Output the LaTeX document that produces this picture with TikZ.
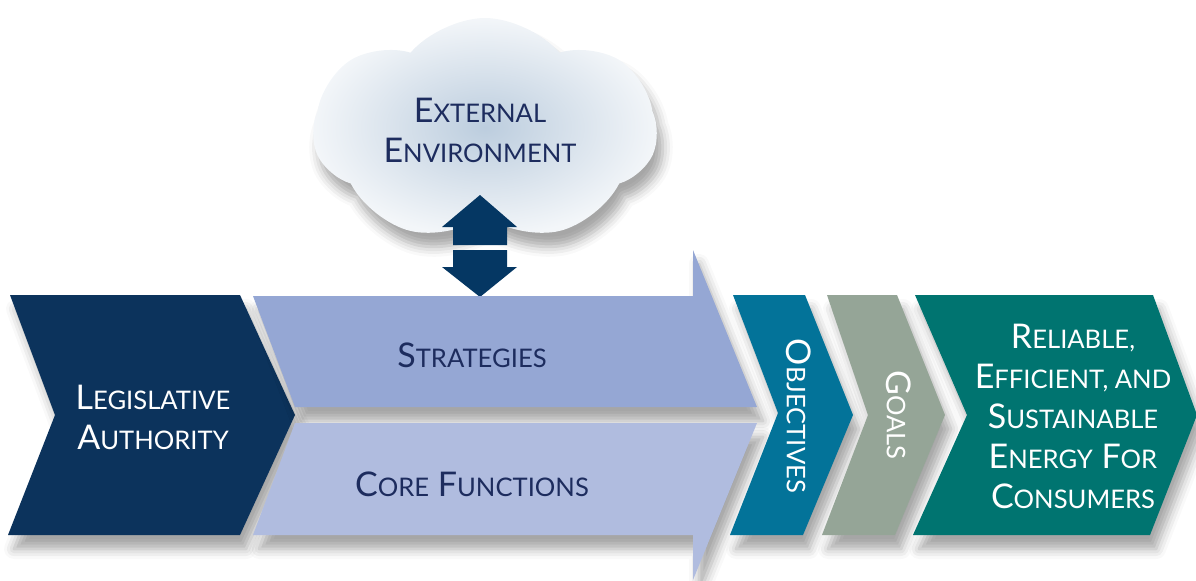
\documentclass[tikz,border=0pt]{standalone}
\usepackage{fontspec}
\setmainfont{Lato}
\usetikzlibrary{shapes.symbols,shadows.blur}

\definecolor{legis}{HTML}{0C335C}
\definecolor{strat}{HTML}{95A7D4}
\definecolor{core}{HTML}{B0BCDF}
\definecolor{objct}{HTML}{037399}
\definecolor{goals}{HTML}{95A597}
\definecolor{energy}{HTML}{007470}
\definecolor{navy}{HTML}{053763}
\definecolor{ink}{HTML}{1D2C5E}
\definecolor{cloudin}{HTML}{BCCDDE}
\definecolor{cloudout}{HTML}{F3F6F9}

% small capitals by hand
\newcommand\sm[1]{{\fontsize{12.8}{20}\selectfont #1}}

\tikzset{
  soft/.style={blur shadow={shadow xshift=3pt,shadow yshift=-7pt,
      shadow blur radius=5pt,shadow opacity=35}},
  lbl/.style={font=\fontsize{17}{20}\selectfont,align=center,inner sep=0pt}
}

\begin{document}
\begin{tikzpicture}[x=0.5pt,y=-0.5pt]
\useasboundingbox (0,0) rectangle (1196,580);
% External environment
\node[cloud,cloud puffs=7,cloud puff arc=100,aspect=1.6,inner sep=0pt,
  minimum width=172pt,minimum height=112pt,shading=radial,inner color=cloudin,
  outer color=cloudout,soft] (env) at (485,130) {};
\node[lbl,text=ink] (envtxt) at (480,130) {E\sm{XTERNAL}\\E\sm{NVIRONMENT}};
% two-way arrow
\fill[navy] (453,245) -- (453,227) -- (442,227) -- (480,195) -- (517,227)
  -- (507,227) -- (507,245) -- cycle;
\fill[navy] (453,250) -- (507,250) -- (507,267) -- (517,267) -- (480,297)
  -- (442,267) -- (453,267) -- cycle;
% chevrons
\fill[legis,soft] (10,295) -- (240,295) -- (295,415) -- (240,535)
  -- (8,535) -- (55,415) -- cycle;
\fill[strat,soft] (253,296) -- (693,296) -- (693,250) -- (757,407)
  -- (295,407) -- cycle;
\fill[core,soft] (295,423) -- (757,423) -- (693,580) -- (693,535)
  -- (253,535) -- cycle;
\fill[objct,soft] (733,295) -- (805,295) -- (853,415) -- (803,535)
  -- (730,535) -- (778,413) -- cycle;
\fill[goals,soft] (827,295) -- (897,295) -- (945,415) -- (895,535)
  -- (822,535) -- (868,415) -- cycle;
\fill[energy,soft] (915,295) -- (1153,295) -- (1197,415) -- (1150,535)
  -- (913,535) -- (967,415) -- cycle;
% labels
\node[lbl,text=white] (legistxt) at (153,417) {L\sm{EGISLATIVE}\\A\sm{UTHORITY}};
\node[lbl,text=ink] (strattxt) at (472,355) {S\sm{TRATEGIES}};
\node[lbl,text=ink] (coretxt) at (472,484) {C\sm{ORE} F\sm{UNCTIONS}};
\node[lbl,text=white,rotate=-90] (objtxt) at (799,416) {O\sm{BJECTIVES}};
\node[lbl,text=white,rotate=-90] (goaltxt) at (899,415) {G\sm{OALS}};
\node[lbl,text=white] (energytxt) at (1073,416)
  {R\sm{ELIABLE,}\\E\sm{FFICIENT, AND}\\S\sm{USTAINABLE}\\E\sm{NERGY} F\sm{OR}\\C\sm{ONSUMERS}};
\end{tikzpicture}
\end{document}
